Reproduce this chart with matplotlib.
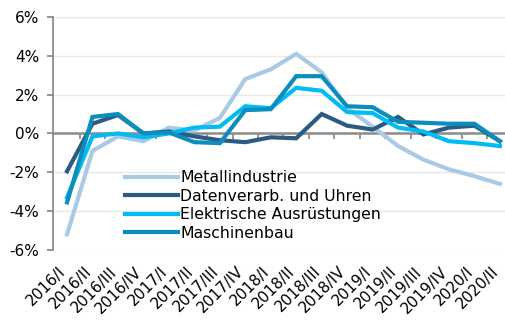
import numpy as np
import matplotlib.pyplot as plt
from matplotlib.transforms import blended_transform_factory

plt.rcParams['font.family'] = ['DejaVu Sans']

quartale = ['2016/I', '2016/II', '2016/III', '2016/IV',
            '2017/I', '2017/II', '2017/III', '2017/IV',
            '2018/I', '2018/II', '2018/III', '2018/IV',
            '2019/I', '2019/II', '2019/III', '2019/IV',
            '2020/I', '2020/II']

# Veränderung in %
metall = [-5.2, -0.9, -0.15, -0.4, 0.3, 0.15, 0.8, 2.8, 3.3, 4.1,
          3.15, 1.3, 0.35, -0.65, -1.35, -1.85, -2.2, -2.6]
datenverarb = [-1.95, 0.5, 0.95, 0.0, 0.1, -0.15, -0.35, -0.45, -0.2, -0.25,
               1.0, 0.4, 0.2, 0.85, -0.05, 0.3, 0.4, -0.4]
elektrisch = [-3.3, -0.15, 0.0, -0.2, 0.0, 0.3, 0.35, 1.4, 1.3, 2.35,
              2.2, 1.1, 1.05, 0.3, 0.1, -0.4, -0.5, -0.65]
maschinen = [-3.55, 0.85, 1.0, 0.0, 0.05, -0.45, -0.5, 1.2, 1.25, 2.95,
             2.95, 1.4, 1.35, 0.6, 0.55, 0.5, 0.5, -0.4]

serien = [
    ('Metallindustrie', metall, '#a9cae5'),
    ('Datenverarb. und Uhren', datenverarb, '#2b5a82'),
    ('Elektrische Ausrüstungen', elektrisch, '#00bcf2'),
    ('Maschinenbau', maschinen, '#0b8dbd'),
]

fig = plt.figure(figsize=(5.05, 3.2), dpi=100)
ax = fig.add_axes([0.105, 0.219, 0.895, 0.728])

x = np.arange(len(quartale))
for name, werte, farbe in serien:
    ax.plot(x, werte, color=farbe, lw=3, label=name, solid_joinstyle='miter')

ax.set_xlim(-0.55, 17.2)
ax.set_ylim(-6, 6)
ax.set_yticks(np.arange(-6, 7, 2))
ax.set_yticklabels([f'{v}%' for v in range(-6, 7, 2)], fontsize=11)
ax.grid(axis='y', color='#e8e8e8', lw=1)
ax.set_axisbelow(True)

for s in ['top', 'right']:
    ax.spines[s].set_visible(False)
ax.spines['left'].set_color('#8c8c8c')
ax.spines['left'].set_linewidth(1.3)
ax.spines['bottom'].set_position(('data', 0))
ax.spines['bottom'].set_color('#8c8c8c')
ax.spines['bottom'].set_linewidth(1.8)
ax.spines['bottom'].set_zorder(1.5)

# Striche auf der Nulllinie zwischen den Quartalen
ax.set_xticks(x, [''] * len(x))
ax.set_xticks(np.arange(0.5, 17, 1), minor=True)
ax.tick_params(axis='x', which='major', length=0)
ax.tick_params(axis='x', which='minor', length=4, width=1.3, color='#8c8c8c', direction='out')
ax.tick_params(axis='y', length=4, width=1.3, color='#8c8c8c', pad=6)

trans = blended_transform_factory(ax.transData, ax.transAxes)
for xi, lab in zip(x, quartale):
    ax.text(xi - 0.35, -0.06, lab, transform=trans, rotation=45,
            ha='right', va='top', rotation_mode='anchor', fontsize=11)

ax.legend(loc='upper left', bbox_to_anchor=(0.247, 0.468), bbox_transform=fig.transFigure,
          frameon=False, fontsize=11.3, handlelength=3.4, handletextpad=0.15,
          labelspacing=0.22, borderpad=0, borderaxespad=0)

fig.savefig('out.png', dpi=100)
